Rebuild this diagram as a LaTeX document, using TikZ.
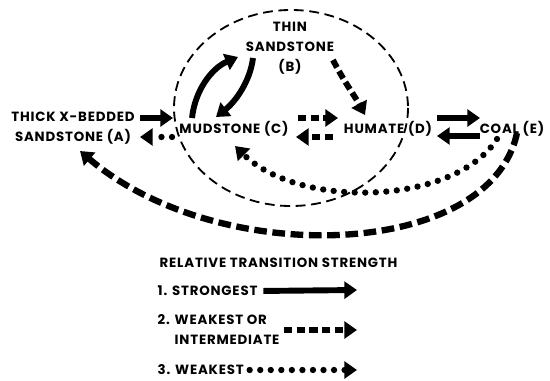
\documentclass[tikz,border=0pt]{standalone}
\usepackage{fontspec}
\setmainfont{Poppins}[LetterSpace=6]
\usetikzlibrary{arrows.meta,calc}
\begin{document}
\begin{tikzpicture}[x=0.025cm, y=-0.025cm,
    lbl/.style={font=\bfseries\fontsize{9.5}{14.2}\selectfont, align=center, inner sep=1pt},
    tip/.style={-{Triangle[width=12pt,length=9pt]}},
    strong/.style={tip, line width=4.2pt},
    inter/.style={tip, line width=4.2pt, dash pattern=on 6pt off 3pt},
    weak/.style={tip, line width=4.5pt, line cap=round, dash pattern=on 0pt off 7.5pt}]
    \useasboundingbox (0,0) rectangle (550,380);
    \node[lbl] (thin) at (290,48) {THIN\\SANDSTONE\\(B)};
    \node[lbl] (thick) at (73,128) {THICK X-BEDDED\\SANDSTONE (A)};
    \node[lbl] (mud) at (234,129) {MUDSTONE (C)};
    \node[lbl] (hum) at (388,129) {HUMATE (D)};
    \node[lbl] (coal) at (512,129) {COAL (E)};
    \draw[line width=1.3pt, dash pattern=on 7pt off 4pt] (291,108) ellipse [x radius=117, y radius=98];
    \draw[strong] ($(thick)+(67,-10)$) -- ($(mud)+(-61,-11)$);
    \draw[weak] ($(mud)+(-62,8)$) -- ($(thick)+(67,9)$);
    \draw[strong] ($(mud)+(-42,-11)$) .. controls (195,90) and (212,68) .. ($(thin)+(-52,9)$);
    \draw[strong] ($(thin)+(-37,10)$) .. controls (250,82) and (235,102) .. ($(mud)+(-18,-12)$);
    \draw[inter] ($(thin)+(43,12)$) .. controls (343,80) and (356,98) .. ($(hum)+(-23,-14)$);
    \draw[inter] ($(mud)+(64,-11)$) -- ($(hum)+(-50,-11)$);
    \draw[inter] ($(hum)+(-55,8)$) -- ($(mud)+(62,8)$);
    \draw[strong] ($(hum)+(49,-11)$) -- ($(coal)+(-32,-11)$);
    \draw[strong] ($(coal)+(-32,7)$) -- ($(hum)+(49,7)$);
    \draw[weak] ($(coal)+(-15,10)$) .. controls (455,205) and (300,210) .. ($(mud)+(1,17)$);
    \draw[inter, line width=4.5pt, dash pattern=on 9pt off 4pt] ($(coal)+(5,4)$) .. controls (490,260) and (218,269) .. ($(thick)+(7,23)$);
    \node[lbl, anchor=west] (title) at (158,263) {RELATIVE TRANSITION STRENGTH};
    \node[lbl, anchor=west] (one) at (156,291) {1. STRONGEST};
    \node[lbl, anchor=west, align=left] (two) at (156,330) {2. WEAKEST OR\\\phantom{2. }INTERMEDIATE};
    \node[lbl, anchor=west] (three) at (156,370) {3. WEAKEST};
    \coordinate (end1) at (357,290);
    \coordinate (end2) at (357,330);
    \coordinate (end3) at (357,370);
    \draw[strong, shorten <=3pt] (one.east) -- (end1);
    \draw[inter, shorten <=2pt] (two.east) -- (end2);
    \draw[weak, shorten <=3pt] (three.east) -- (end3);
\end{tikzpicture}
\end{document}
